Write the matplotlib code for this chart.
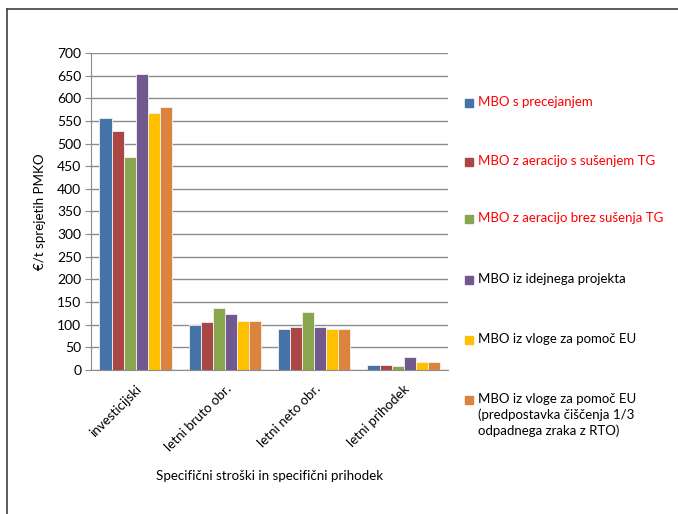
import matplotlib
matplotlib.use('Agg')
import matplotlib.pyplot as plt
import numpy as np
from matplotlib.patches import Rectangle
from matplotlib.lines import Line2D

plt.rcParams['font.family'] = ['Lato', 'DejaVu Sans']

categories = ['investicijski', 'letni bruto obr.', 'letni neto obr.', 'letni prihodek']
series = [
    'MBO s precejanjem',
    'MBO z aeracijo s sušenjem TG',
    'MBO z aeracijo brez sušenja TG',
    'MBO iz idejnega projekta',
    'MBO iz vloge za pomoč EU',
    'MBO iz vloge za pomoč EU\n(predpostavka čiščenja 1/3\nodpadnega zraka z RTO)',
]
values = [
    [557, 100, 90, 10],
    [527, 107, 96, 11],
    [470, 136, 128, 9],
    [653, 123, 95, 29],
    [568, 108, 90, 18],
    [581, 108, 91, 17],
]
colors = ['#4572A7', '#AA4643', '#89A54E', '#71588F', '#FFC000', '#DB843D']
label_red = [True, True, True, False, False, False]

fig = plt.figure(figsize=(6.78, 5.14), dpi=100)
ax = fig.add_axes([0.1342, 0.2802, 0.527, 0.6167])

x = np.arange(len(categories))
w = 0.135
for k, (vals, c) in enumerate(zip(values, colors)):
    ax.bar(x + (k - 2.5) * w, vals, width=w, color=c, edgecolor='#f2f2f2',
           linewidth=0.6, zorder=3)

ax.set_xlim(-0.5, len(categories) - 0.5)
ax.set_ylim(0, 700)
ax.set_yticks(np.arange(0, 701, 50))
ax.grid(axis='y', color='#8c8c8c', linewidth=1, zorder=0)
for s in ['top', 'right']:
    ax.spines[s].set_visible(False)
ax.spines['left'].set_color('#8c8c8c')
ax.spines['bottom'].set_color('#8c8c8c')
ax.spines['bottom'].set_zorder(4)
ax.tick_params(axis='y', length=4, color='#8c8c8c', labelsize=10, pad=3)
ax.tick_params(axis='x', length=0, labelsize=9.6, pad=9)
ax.set_xticks(x)
ax.set_xticklabels(categories, rotation=45, ha='right', rotation_mode='anchor')
ax.set_ylabel('€/t sprejetih PMKO', fontsize=9.6, labelpad=8)
ax.set_xlabel('Specifični stroški in specifični prihodek', fontsize=9.6, labelpad=12)

# legend drawn by hand so the spacing follows the multi-line entry
leg_y = [103, 162, 219, 280, 340, 400]
for lab, c, red, py in zip(series, colors, label_red, leg_y):
    fy = 1 - py / 514
    fig.patches.append(Rectangle((465 / 678, fy - 4 / 514), 8 / 678, 8 / 514,
                                 transform=fig.transFigure, color=c))
    fig.text(478 / 678, fy + 7 / 514, lab, fontsize=9.5, va='top', ha='left',
             color='#ff0000' if red else 'black', linespacing=1.35)

# outer frame
fig.lines.append(Line2D([7 / 678, 7 / 678], [0, 1 - 9 / 514], transform=fig.transFigure,
                        color='#404040', linewidth=1.2))
fig.lines.append(Line2D([7 / 678, 1], [1 - 9 / 514, 1 - 9 / 514], transform=fig.transFigure,
                        color='#404040', linewidth=1.2))

fig.savefig('out.png', dpi=100)
